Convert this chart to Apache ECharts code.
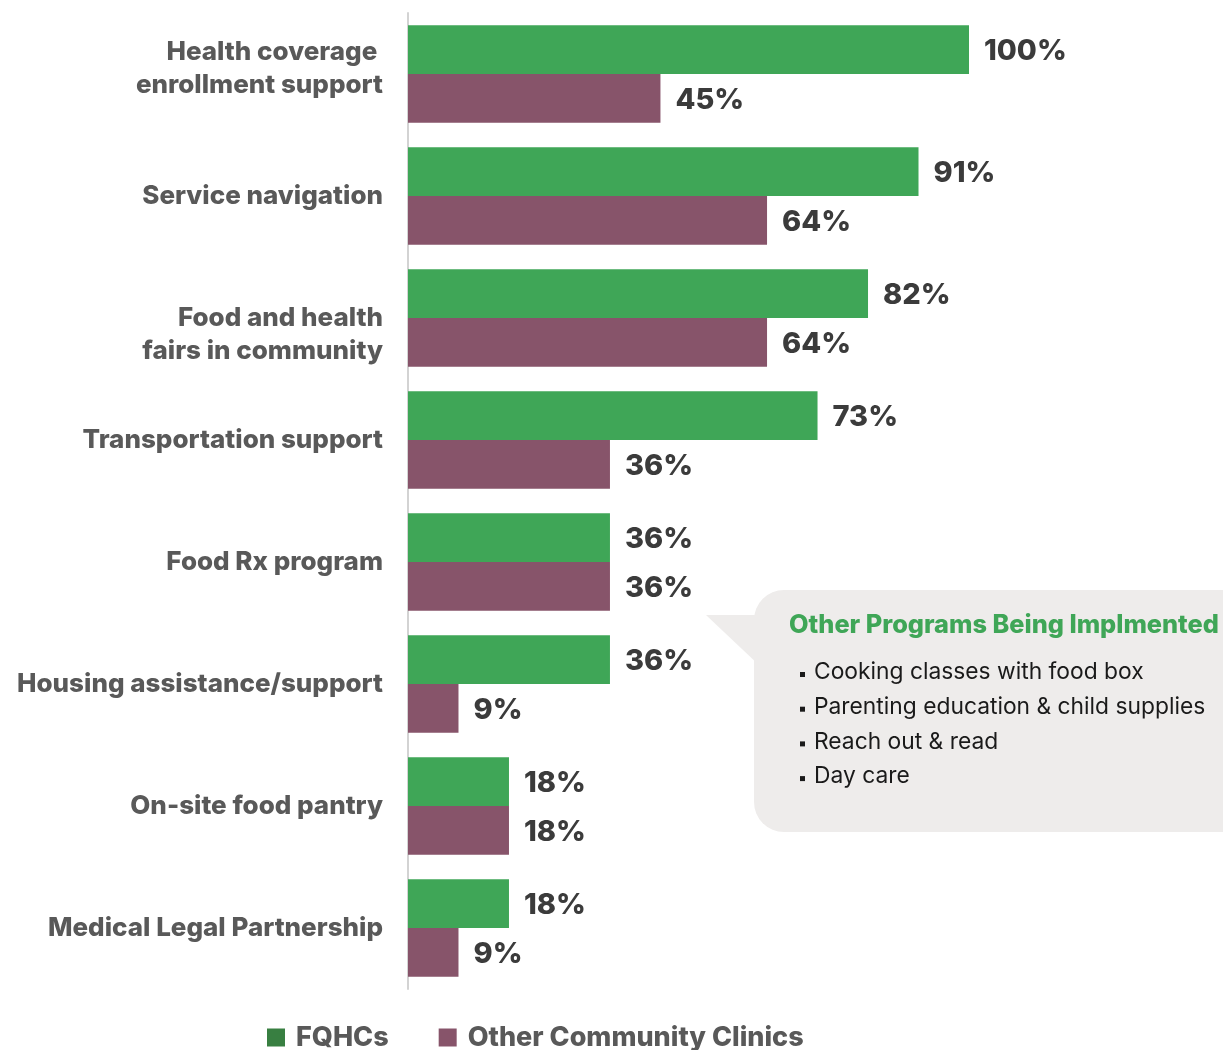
<!DOCTYPE html>
<html>
<head>
<meta charset="utf-8">
<script src="https://cdn.jsdelivr.net/npm/echarts@6/dist/echarts.min.js"></script>
<style>
  html, body { margin: 0; padding: 0; background: #ffffff; }
  #chart { width: 1223px; height: 1050px; }
</style>
</head>
<body>
<div id="chart"></div>
<script>
// Programs offered, share of clinics (%)
const categories = [
  'Health coverage \nenrollment support',
  'Service navigation',
  'Food and health\nfairs in community',
  'Transportation support',
  'Food Rx program',
  'Housing assistance/support',
  'On-site food pantry',
  'Medical Legal Partnership'
];
const fqhcValues = [100, 91, 82, 73, 36, 36, 18, 18];
const otherValues = [45, 64, 64, 36, 36, 9, 18, 9];
const seriesNames = ['FQHCs', 'Other Community Clinics'];

const calloutTitle = 'Other Programs Being Implmented';
const calloutItems = [
  'Cooking classes with food box',
  'Parenting education & child supplies',
  'Reach out & read',
  'Day care'
];

const GREEN = '#3fa657';
const PURPLE = '#87546a';
const LABEL_FONT = 'Inter, "Noto Sans", Roboto, sans-serif';
const HEAVY = 800;

const chart = echarts.init(document.getElementById('chart'));

const valueLabel = {
  show: true,
  position: 'right',
  distance: 15,
  offset: [0, 2],
  formatter: '{c}%',
  fontFamily: LABEL_FONT,
  fontWeight: HEAVY,
  fontSize: 29,
  color: '#3b3b3b'
};

// Two-line labels sit at different heights within their bands:
// the first is lifted slightly, the third starts at the band centre.
function categoryLabel(value, index) {
  const lines = value.split('\n').map(function (l) { return '{t|' + l + '}'; });
  if (index === 0) lines.push('{s| }');
  if (index === 2) lines.unshift('{t| }');
  return lines.join('\n');
}

const calloutChildren = [
  {
    type: 'polygon',
    shape: { points: [[706, 615], [760, 615], [760, 666]] },
    style: { fill: '#eeeceb' }
  },
  {
    type: 'rect',
    shape: { x: 754, y: 590, width: 500, height: 242, r: 30 },
    style: { fill: '#eeeceb' }
  },
  {
    type: 'text',
    left: 789, top: 613,
    style: {
      text: calloutTitle,
      font: HEAVY + ' 25.3px ' + LABEL_FONT,
      fill: GREEN
    }
  }
];
calloutItems.forEach(function (t, i) {
  calloutChildren.push({
    type: 'rect',
    shape: { x: 800, y: 672 + i * 34.7, width: 5, height: 5 },
    style: { fill: '#1a1a1a' }
  });
  calloutChildren.push({
    type: 'text',
    left: 814, top: 661 + i * 34.7,
    style: {
      text: t,
      font: '22.8px ' + LABEL_FONT,
      fill: '#1a1a1a'
    }
  });
});

chart.setOption({
  backgroundColor: '#ffffff',
  animation: false,
  grid: { left: 408, right: 254, top: 13, bottom: 61, containLabel: false },
  legend: {
    left: 267,
    top: 1024,
    padding: 0,
    icon: 'rect',
    itemWidth: 18,
    itemHeight: 18,
    itemGap: 50,
    textStyle: {
      fontFamily: LABEL_FONT,
      fontWeight: HEAVY,
      fontSize: 27,
      color: '#595959',
      padding: [0, 0, 0, 6]
    },
    data: [
      { name: seriesNames[0], itemStyle: { color: '#387f41' } },
      { name: seriesNames[1], itemStyle: { color: PURPLE } }
    ]
  },
  xAxis: {
    type: 'value',
    min: 0,
    max: 100,
    show: false
  },
  yAxis: {
    type: 'category',
    inverse: true,
    data: categories,
    axisLine: { show: true, lineStyle: { color: '#d3d3d3', width: 2 } },
    axisTick: { show: false },
    axisLabel: {
      margin: 25,
      align: 'right',
      formatter: categoryLabel,
      rich: {
        t: {
          fontFamily: LABEL_FONT,
          fontWeight: HEAVY,
          fontSize: 26,
          lineHeight: 33,
          color: '#595959',
          align: 'right'
        },
        s: { fontSize: 8, lineHeight: 11 }
      }
    }
  },
  series: [
    {
      name: seriesNames[0],
      type: 'bar',
      data: fqhcValues,
      barGap: '0%',
      barCategoryGap: '20%',
      itemStyle: { color: GREEN },
      label: valueLabel
    },
    {
      name: seriesNames[1],
      type: 'bar',
      data: otherValues,
      barGap: '0%',
      barCategoryGap: '20%',
      itemStyle: { color: PURPLE },
      label: valueLabel
    }
  ],
  graphic: [{ type: 'group', children: calloutChildren }]
});
</script>
</body>
</html>
